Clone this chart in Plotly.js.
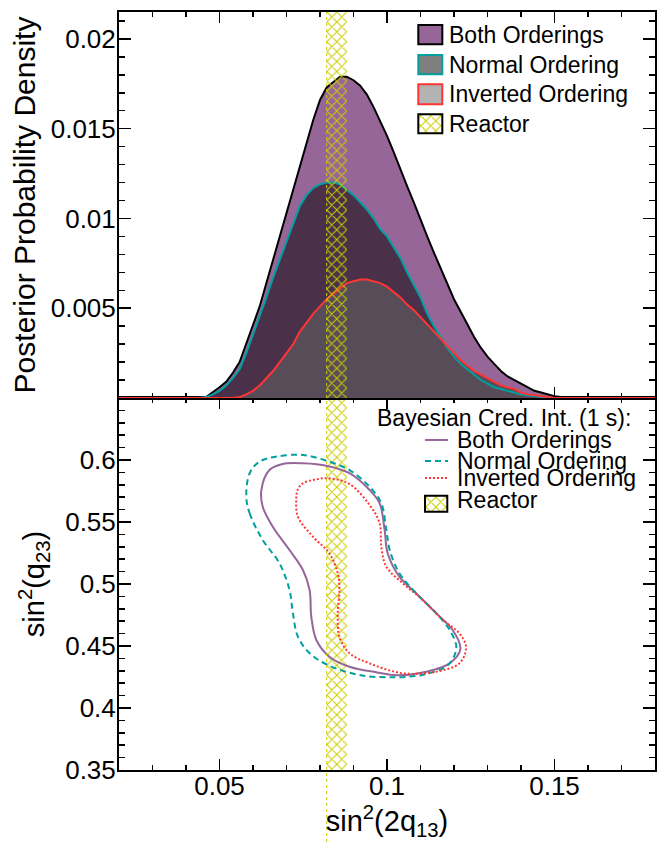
<!DOCTYPE html>
<html><head><meta charset="utf-8">
<script src="https://cdn.plot.ly/plotly-3.0.1.min.js"></script>
<style>html,body{margin:0;padding:0;background:#fff}#chart{width:658px;height:842px}</style>
</head><body><div id="chart"></div>
<script>
// ---------------- data ----------------
const sin2x = [0.02, 0.044, 0.046, 0.048, 0.050, 0.052, 0.054, 0.056, 0.058, 0.060, 0.062, 0.064, 0.066, 0.068, 0.070,
  0.072, 0.074, 0.076, 0.078, 0.080, 0.082, 0.084, 0.086, 0.088, 0.090, 0.092, 0.094, 0.096, 0.098, 0.100,
  0.102, 0.104, 0.106, 0.108, 0.110, 0.112, 0.114, 0.116, 0.118, 0.120, 0.122, 0.124, 0.126, 0.128, 0.130,
  0.132, 0.134, 0.136, 0.138, 0.140, 0.142, 0.144, 0.146, 0.148, 0.150, 0.152, 0.154, 0.156, 0.18];
const postBoth = [0, 0, 0.00005, 0.0003, 0.0006, 0.0009, 0.0014, 0.0020, 0.0030, 0.0041, 0.0051, 0.0064, 0.0077, 0.0090, 0.0103,
  0.0116, 0.0129, 0.0142, 0.0155, 0.0166, 0.0173, 0.0176, 0.0179, 0.0179, 0.0177, 0.0174, 0.0169, 0.0162, 0.0154, 0.0146,
  0.0137, 0.0127, 0.0118, 0.0109, 0.0099, 0.0090, 0.0081, 0.0072, 0.0063, 0.0055, 0.0048, 0.0041, 0.0034, 0.0028, 0.0023,
  0.0019, 0.0015, 0.0012, 0.0010, 0.0008, 0.0006, 0.0004, 0.0003, 0.0002, 0.0001, 0.00005, 0, 0, 0];
const postNormal = [0, 0, 0.00005, 0.0002, 0.0004, 0.0007, 0.0011, 0.0016, 0.0025, 0.0035, 0.0046, 0.0056, 0.0067, 0.0077, 0.0088,
  0.0098, 0.0107, 0.0113, 0.0117, 0.0119, 0.0120, 0.0120, 0.0119, 0.0116, 0.0113, 0.0109, 0.0105, 0.0100, 0.0094, 0.0090,
  0.0084, 0.0078, 0.0070, 0.0063, 0.0056, 0.0047, 0.0040, 0.0034, 0.0028, 0.0023, 0.0019, 0.0016, 0.0013, 0.0010, 0.0008,
  0.0006, 0.0005, 0.0004, 0.0003, 0.0002, 0.00015, 0.0001, 0.00005, 0, 0, 0, 0, 0, 0];
const postInverted = [0, 0, 0, 0, 0, 0, 0, 0.00005, 0.0002, 0.0004, 0.0007, 0.0011, 0.0015, 0.0020, 0.0025,
  0.0030, 0.0037, 0.0042, 0.0047, 0.0051, 0.0055, 0.0058, 0.0061, 0.0064, 0.0065, 0.0066, 0.0066, 0.0065, 0.0064, 0.0062,
  0.0059, 0.0056, 0.0052, 0.0049, 0.0045, 0.0041, 0.0037, 0.0033, 0.0029, 0.0025, 0.0021, 0.0018, 0.0015, 0.0013, 0.0011,
  0.0009, 0.0007, 0.0006, 0.0005, 0.0003, 0.0002, 0.00015, 0.0001, 0.00005, 0, 0, 0, 0, 0];

const reactorRange = [0.082, 0.088];

const credBothX = [0.0625, 0.0629, 0.0659, 0.0709, 0.0749, 0.0769, 0.0774, 0.0789, 0.0828, 0.0888, 0.0968, 0.1028, 0.1117, 0.1187,
  0.1219, 0.1196, 0.1147, 0.1087, 0.1037, 0.1002, 0.0993, 0.0978, 0.0948, 0.0888, 0.0822, 0.0749, 0.0689, 0.0649, 0.0625];
const credBothY = [0.5758, 0.5623, 0.5462, 0.5274, 0.5113, 0.4952, 0.4736, 0.4548, 0.4414, 0.4333, 0.4288, 0.4264, 0.4293, 0.4360,
  0.4476, 0.4629, 0.4764, 0.4925, 0.5059, 0.5248, 0.5435, 0.5651, 0.5758, 0.5893, 0.5952, 0.5973, 0.5968, 0.5919, 0.5758];
const credNormalX = [0.0580, 0.0590, 0.0629, 0.0679, 0.0709, 0.0719, 0.0734, 0.0769, 0.0823, 0.0918, 0.1028, 0.1117, 0.1182, 0.1207,
  0.1187, 0.1147, 0.1087, 0.1037, 0.1008, 0.0998, 0.0983, 0.0948, 0.0888, 0.0828, 0.0749, 0.0669, 0.0619, 0.0590, 0.0580];
const credNormalY = [0.5704, 0.5570, 0.5355, 0.5167, 0.4952, 0.4766, 0.4575, 0.4441, 0.4347, 0.4266, 0.4248, 0.4274, 0.4347, 0.4484,
  0.4629, 0.4764, 0.4925, 0.5086, 0.5274, 0.5435, 0.5651, 0.5785, 0.5919, 0.5986, 0.6040, 0.6027, 0.5986, 0.5893, 0.5704];
const credInvertedX = [0.0729, 0.0734, 0.0779, 0.0828, 0.0853, 0.0858, 0.0853, 0.0858, 0.0888, 0.0948, 0.1047, 0.1147, 0.1216, 0.1236,
  0.1216, 0.1167, 0.1107, 0.1047, 0.0998, 0.0983, 0.0978, 0.0948, 0.0888, 0.0828, 0.0789, 0.0749, 0.0733, 0.0729];
const credInvertedY = [0.5677, 0.5543, 0.5381, 0.5248, 0.5086, 0.4952, 0.4764, 0.4575, 0.4441, 0.4360, 0.4280, 0.4293, 0.4360, 0.4488,
  0.4602, 0.4710, 0.4871, 0.5006, 0.5140, 0.5301, 0.5489, 0.5637, 0.5806, 0.5852, 0.5844, 0.5812, 0.5758, 0.5677];

const xTickVals = [0.05, 0.1, 0.15];
const xTickText = ['0.05', '0.1', '0.15'];
const pdfTickVals = [0.005, 0.01, 0.015, 0.02];
const pdfTickText = ['0.005', '0.01', '0.015', '0.02'];
const th23TickVals = [0.35, 0.4, 0.45, 0.5, 0.55, 0.6];
const th23TickText = ['0.35', '0.4', '0.45', '0.5', '0.55', '0.6'];
const seriesNames = ['Both Orderings', 'Normal Ordering', 'Inverted Ordering', 'Reactor'];
const credHeader = 'Bayesian Cred. Int. (1 s):';

// ---------------- styles ----------------
const FONT = 'Liberation Sans, Arial, Helvetica, sans-serif';
const PURPLE = '#966699', TEAL = '#00a0a0', RED = '#ff3535', YEL = '#cccc00';
const FILL_NO = '#4a3049', FILL_IO = '#574c58';
const pdfRange = [0, 0.0215], th23Range = [0.35, 0.65];
const hatch = {shape: 'x', fgcolor: YEL, bgcolor: 'rgba(0,0,0,0)', fillmode: 'replace', size: 7, solidity: 0.27};

function fillTrace(y, color) {
  return {x: sin2x, y: y, xaxis: 'x2', yaxis: 'y2', type: 'scatter', mode: 'lines', fill: 'tozeroy',
    fillcolor: color, line: {width: 0}, hoverinfo: 'skip'};
}
function lineTrace(y, color) {
  return {x: sin2x, y: y, xaxis: 'x2', yaxis: 'y2', type: 'scatter', mode: 'lines',
    line: {width: 2, color: color}, hoverinfo: 'skip'};
}
function bandTrace(xa, ya, yr) {
  return {x: [reactorRange[0], reactorRange[1], reactorRange[1], reactorRange[0], reactorRange[0]],
    y: [yr[0], yr[0], yr[1], yr[1], yr[0]], xaxis: xa, yaxis: ya, type: 'scatter', mode: 'lines',
    fill: 'toself', fillcolor: 'rgba(0,0,0,0)', fillpattern: hatch, line: {width: 0}, hoverinfo: 'skip'};
}
function credTrace(x, y, color, dash) {
  return {x: x, y: y, type: 'scatter', mode: 'lines', xaxis: 'x', yaxis: 'y',
    line: {color: color, width: 2, dash: dash, shape: 'spline', smoothing: 1}, hoverinfo: 'skip'};
}

// legend geometry (paper coordinates)
const Lt = {x0: 0.5584, x1: 0.6032, tx: 0.6114, rows: [[0.9574, 0.9828], [0.9178, 0.9433], [0.8782, 0.9046], [0.8400, 0.8650]]};
const Lb = {x0: 0.5709, x1: 0.6138, tx: 0.6269, hx: 0.4776, hy: 0.4644, ys: [0.4354, 0.4077, 0.3852], box: [0.5709, 0.6125, 0.3408, 0.3619], ty: [0.4354, 0.4083, 0.3852, 0.3562]};

function swatchHatch(x0, x1, y0, y1) {
  return {x: [x0, x1, x1, x0, x0], y: [y0, y0, y1, y1, y0], xaxis: 'x3', yaxis: 'y3', type: 'scatter', mode: 'lines',
    fill: 'toself', fillcolor: '#ffffff', fillpattern: Object.assign({}, hatch, {bgcolor: '#ffffff'}), line: {width: 0}, hoverinfo: 'skip'};
}

const traces = [
  fillTrace(postBoth, PURPLE), fillTrace(postNormal, FILL_NO), fillTrace(postInverted, FILL_IO),
  lineTrace(postBoth, '#000000'), lineTrace(postNormal, TEAL), lineTrace(postInverted, RED),
  bandTrace('x2', 'y2', pdfRange),
  bandTrace('x', 'y', th23Range),
  credTrace(credBothX, credBothY, PURPLE, 'solid'),
  credTrace(credNormalX, credNormalY, TEAL, '6px,4px'),
  credTrace(credInvertedX, credInvertedY, RED, '2px,2px'),
  swatchHatch(Lt.x0, Lt.x1, Lt.rows[3][0], Lt.rows[3][1]),
  swatchHatch(Lb.box[0], Lb.box[1], Lb.box[2], Lb.box[3])
];

const axBase = {showline: true, linewidth: 2, linecolor: '#000', mirror: 'allticks', ticks: 'inside',
  ticklen: 12, tickwidth: 1.5, tickcolor: '#000', showgrid: false, zeroline: false,
  tickfont: {size: 26, family: FONT, color: '#000'}};

const shapes = [];
const topFills = [[PURPLE, '#000000'], ['#7f7f7f', TEAL], ['#b3b3b3', RED], ['rgba(0,0,0,0)', '#000000']];
topFills.forEach((f, i) => {
  shapes.push({type: 'rect', xref: 'paper', yref: 'paper', x0: Lt.x0, x1: Lt.x1, y0: Lt.rows[i][0], y1: Lt.rows[i][1],
    fillcolor: f[0], line: {color: f[1], width: 2}});
});
[[PURPLE, 'solid'], [TEAL, '6px,4px'], [RED, '2px,2px']].forEach((s, i) => {
  shapes.push({type: 'line', xref: 'paper', yref: 'paper', x0: Lb.x0, x1: Lb.x1, y0: Lb.ys[i], y1: Lb.ys[i],
    line: {color: s[0], width: 2, dash: s[1]}});
});
shapes.push({type: 'rect', xref: 'paper', yref: 'paper', x0: Lb.box[0], x1: Lb.box[1], y0: Lb.box[2], y1: Lb.box[3],
  fillcolor: 'rgba(0,0,0,0)', line: {color: '#000', width: 2}});
shapes.push({type: 'line', xref: 'x', yref: 'paper', x0: reactorRange[0], x1: reactorRange[0], y0: -0.095, y1: 1,
  line: {color: YEL, width: 1, dash: 'dot'}});

const annotations = [];
seriesNames.forEach((n, i) => {
  annotations.push({xref: 'paper', yref: 'paper', x: Lt.tx, y: (Lt.rows[i][0] + Lt.rows[i][1]) / 2, text: n,
    xanchor: 'left', yanchor: 'middle', showarrow: false, font: {size: 23, family: FONT, color: '#000'}});
  annotations.push({xref: 'paper', yref: 'paper', x: Lb.tx, y: Lb.ty[i], text: n,
    xanchor: 'left', yanchor: 'middle', showarrow: false, font: {size: 23, family: FONT, color: '#000'}});
});
annotations.push({xref: 'paper', yref: 'paper', x: Lb.hx, y: Lb.hy, text: credHeader, xanchor: 'left', yanchor: 'middle',
  showarrow: false, font: {size: 23, family: FONT, color: '#000'}});

const minorX = {dtick: 0.01, tick0: 0, ticklen: 5, tickwidth: 1.5, tickcolor: '#000', ticks: 'inside'};
const layout = {
  width: 658, height: 842,
  margin: {l: 119, r: 3, t: 12, b: 72, pad: 0},
  paper_bgcolor: '#ffffff', plot_bgcolor: 'rgba(0,0,0,0)',
  showlegend: false,
  font: {family: FONT, color: '#000', size: 22},
  xaxis: Object.assign({}, axBase, {domain: [0, 1], anchor: 'y', range: [0.02, 0.18], tickvals: xTickVals, ticktext: xTickText,
    ticklen: 11, minor: minorX, ticklabelstandoff: -8,
    title: {text: 'sin<sup>2</sup>(2q<sub>13</sub>)', font: {size: 29, family: FONT, color: '#000'}, standoff: 8}}),
  xaxis2: Object.assign({}, axBase, {domain: [0, 1], anchor: 'y2', range: [0.02, 0.18], matches: 'x', showticklabels: false,
    tickvals: xTickVals, ticklen: 11, minor: minorX, layer: 'below traces'}),
  yaxis: Object.assign({}, axBase, {domain: [0, 0.4908], anchor: 'x', range: th23Range, tickvals: th23TickVals, ticktext: th23TickText,
    ticklabelstandoff: -4,
    minor: {dtick: 0.01, tick0: 0, ticklen: 6, tickwidth: 1.5, tickcolor: '#000', ticks: 'inside'},
    title: {text: 'sin<sup>2</sup>(q<sub>23</sub>)', font: {size: 29, family: FONT, color: '#000'}, standoff: 12}}),
  yaxis2: Object.assign({}, axBase, {domain: [0.4908, 1], anchor: 'x2', range: pdfRange, tickvals: pdfTickVals, ticktext: pdfTickText,
    ticklabelstandoff: -4,
    minor: {dtick: 0.001, tick0: 0, ticklen: 6, tickwidth: 1.5, tickcolor: '#000', ticks: 'inside'},
    title: {text: 'Posterior Probability Density', font: {size: 30, family: FONT, color: '#000'}, standoff: 6}}),
  xaxis3: {domain: [0, 1], anchor: 'y3', range: [0, 1], visible: false, fixedrange: true},
  yaxis3: {domain: [0, 1], anchor: 'x3', range: [0, 1], visible: false, fixedrange: true},
  shapes: shapes,
  annotations: annotations
};

Plotly.newPlot('chart', traces, layout, {displayModeBar: false, staticPlot: true});
</script></body></html>
